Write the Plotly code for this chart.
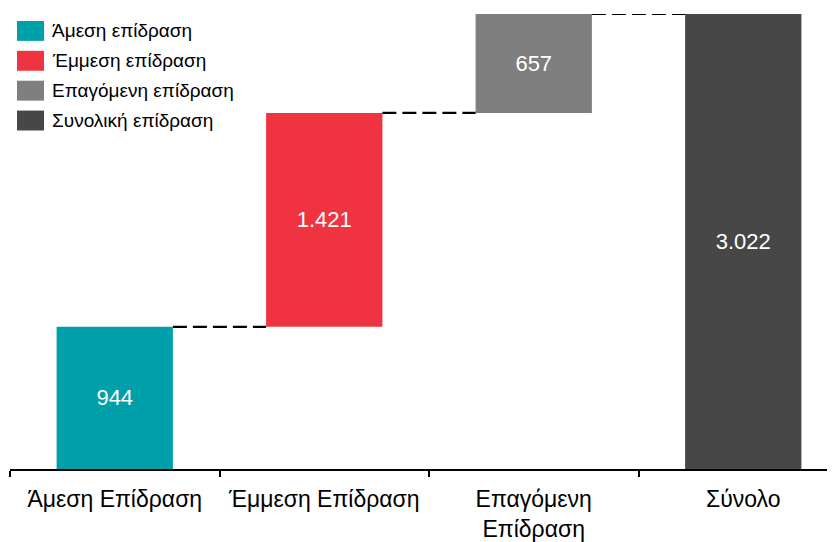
import plotly.graph_objects as go
import numpy as np

categories = ["Άμεση Επίδραση", "Έμμεση Επίδραση", "Επαγόμενη<br>Επίδραση", "Σύνολο"]
values = [944, 1421, 657]
total = [3022]
legend_names = ["Άμεση επίδραση", "Έμμεση επίδραση", "Επαγόμενη επίδραση", "Συνολική επίδραση"]
colors = ["#00A0AB", "#EF3340", "#7F7F7F", "#474747"]

lengths = values + total
cum = list(np.cumsum(values))
bases = [0] + cum[:-1] + [0]
tops = [b + l for b, l in zip(bases, lengths)]

# page body has an 8px margin: figure origin is at (8, 8) in the window
OFF = 8
W, H = 835 - OFF, 542 - OFF
ml, mr, mt, mb = 10 - OFF, 0, 14 - OFF, 542 - 471
pw, ph = W - ml - mr, H - mt - mb
bw = 0.555

fig = go.Figure()
fig.add_trace(go.Bar(
    x=categories, y=lengths, base=bases,
    marker=dict(color=colors, line=dict(width=0)),
    width=bw,
    text=[f"{v:,}".replace(",", ".") for v in lengths],
    textposition="inside", insidetextanchor="middle",
    textfont=dict(color="white", size=22, family="Liberation Sans, Arial"),
    showlegend=False, hoverinfo="skip",
))

shapes = []
for i in range(len(lengths) - 1):
    shapes.append(dict(type="line", xref="x", yref="y",
                       x0=i + bw / 2, x1=i + 1 - bw / 2, y0=tops[i], y1=tops[i],
                       line=dict(color="black", width=2.2, dash="14px,6px")))

annotations = []
def px_x(p):
    return (p - OFF - ml) / pw
def px_y(p):
    return (H - mb - (p - OFF)) / ph

for k, (name, c) in enumerate(zip(legend_names, colors)):
    y0 = 21 + 30 * k
    shapes.append(dict(type="rect", xref="paper", yref="paper",
                       x0=px_x(17), x1=px_x(44), y0=px_y(y0 + 20), y1=px_y(y0),
                       fillcolor=c, line=dict(width=0)))
    annotations.append(dict(xref="paper", yref="paper", x=px_x(50), y=px_y(y0 + 10),
                            text=name, showarrow=False, xanchor="left", yanchor="middle",
                            font=dict(size=19, color="black", family="Liberation Sans, Arial")))

fig.update_layout(
    width=W, height=H,
    margin=dict(l=ml, r=mr, t=mt, b=mb),
    plot_bgcolor="white", paper_bgcolor="white",
    shapes=shapes, annotations=annotations,
    font=dict(family="Liberation Sans, Arial", color="black"),
    xaxis=dict(type="category", range=[-0.5, -0.5 + pw / 209.5],
               showline=True, linecolor="black", linewidth=1.5,
               ticks="outside", tickson="boundaries", ticklen=6, tickcolor="black", tickwidth=1.5,
               ticklabelstandoff=9,
               tickfont=dict(size=23, color="black"), showgrid=False, zeroline=False),
    yaxis=dict(range=[0, 3022], visible=False, showgrid=False, zeroline=False),
)

fig.write_html("out.html")
